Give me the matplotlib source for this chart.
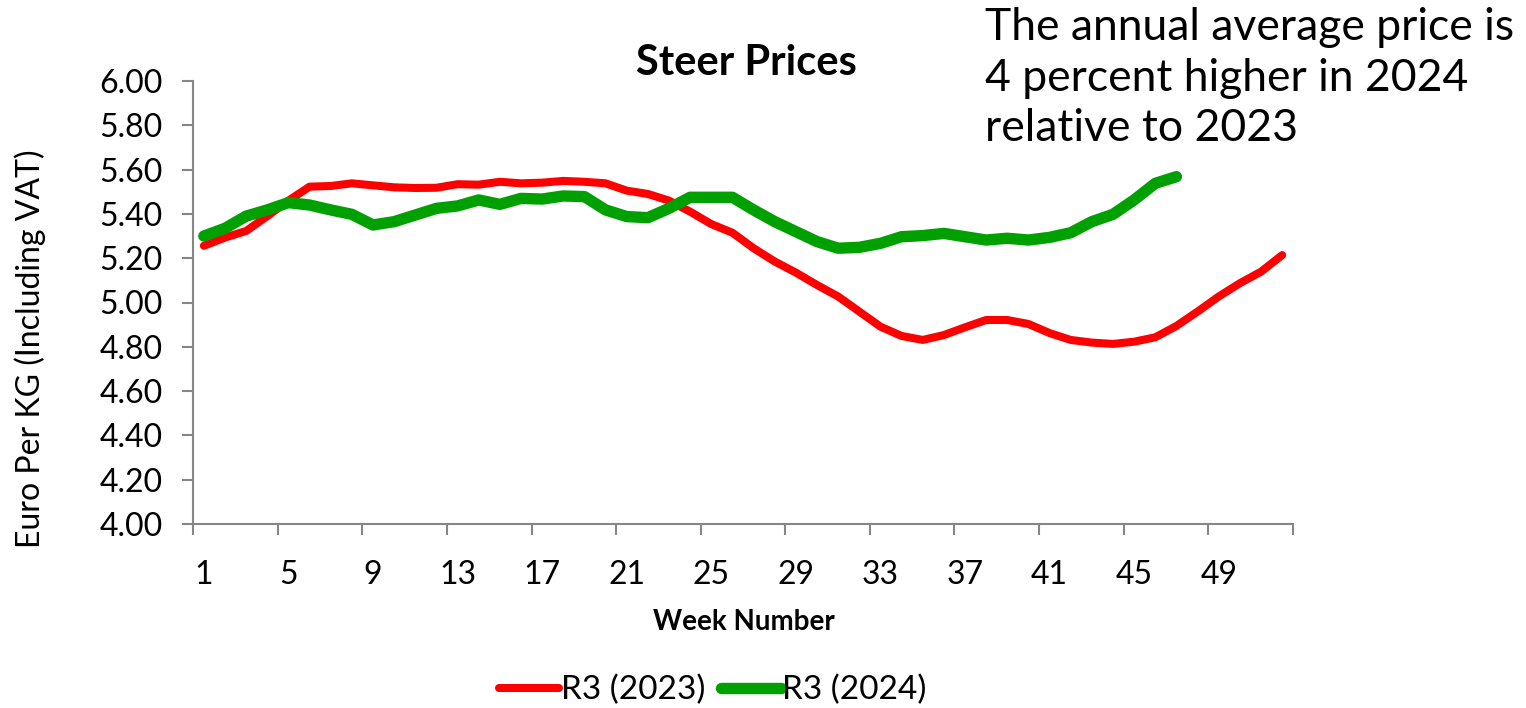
import matplotlib
matplotlib.use("Agg")
import matplotlib.pyplot as plt
import numpy as np

plt.rcParams['font.family'] = ['Lato', 'DejaVu Sans']

weeks = list(range(1, 53))
r3_2023 = [5.256, 5.293, 5.323, 5.390, 5.460, 5.523, 5.526, 5.538, 5.529, 5.520,
           5.517, 5.518, 5.534, 5.532, 5.545, 5.538, 5.541, 5.549, 5.545, 5.538,
           5.505, 5.490, 5.460, 5.410, 5.354, 5.315, 5.245, 5.185, 5.135, 5.079,
           5.027, 4.959, 4.891, 4.849, 4.831, 4.853, 4.888, 4.921, 4.921, 4.903,
           4.862, 4.831, 4.819, 4.813, 4.823, 4.843, 4.894, 4.959, 5.027, 5.087,
           5.139, 5.214]
r3_2024 = [5.300, 5.335, 5.390, 5.418, 5.451, 5.440, 5.418, 5.398, 5.350, 5.365,
           5.395, 5.425, 5.436, 5.463, 5.443, 5.470, 5.467, 5.481, 5.478, 5.418,
           5.388, 5.383, 5.425, 5.475, 5.475, 5.475, 5.418, 5.365, 5.320, 5.275,
           5.245, 5.249, 5.267, 5.297, 5.302, 5.312, 5.297, 5.282, 5.290, 5.282,
           5.294, 5.315, 5.365, 5.398, 5.463, 5.538, 5.568]
xtick_labels = [str(w) for w in range(1, 50, 4)]
yticks = [4.00, 4.20, 4.40, 4.60, 4.80, 5.00, 5.20, 5.40, 5.60, 5.80, 6.00]

fig = plt.figure(figsize=(15.26, 7.08), dpi=100)
ax = fig.add_axes([193.3 / 1526, 1 - 524 / 708, (1292.7 - 193.3) / 1526, (524 - 81) / 708])

ax.plot(weeks, r3_2023, color='#ff0000', lw=5.8, solid_capstyle='round',
        solid_joinstyle='round', label='R3 (2023)')
ax.plot(weeks[:len(r3_2024)], r3_2024, color='#00a000', lw=8.2, solid_capstyle='round',
        solid_joinstyle='round', label='R3 (2024)')

ax.set_xlim(0.5, 52.5)
ax.set_ylim(4.0, 6.0)
ax.set_yticks(yticks)
ax.set_yticklabels([f"{v:.2f}" for v in yticks])
ax.set_xticks(list(range(1, 50, 4)))
ax.set_xticklabels(xtick_labels)
ax.set_xticks(np.arange(0.5, 53, 4), minor=True)

for s in ['top', 'right']:
    ax.spines[s].set_visible(False)
for s in ['left', 'bottom']:
    ax.spines[s].set_color('#868686')
    ax.spines[s].set_linewidth(1.5)

ax.tick_params(axis='y', which='major', length=8, width=1.5, color='#868686',
               labelsize=23, pad=14, direction='out')
ax.tick_params(axis='x', which='major', length=0, labelsize=23, pad=26)
ax.tick_params(axis='x', which='minor', length=8, width=1.5, color='#868686', direction='out')

ax.set_ylabel('Euro Per KG (Including VAT)', fontsize=23)
ax.yaxis.set_label_coords(-0.1485, 0.395)
ax.set_xlabel('Week Number', fontsize=20, fontweight='bold')
ax.xaxis.set_label_coords(0.501, -0.221)
ax.xaxis.label.set_va('center')
ax.yaxis.label.set_va('center')

fig.text(746 / 1526, 1 - 63 / 708, 'Steer Prices', fontsize=30, fontweight='bold',
         ha='center', va='center')
fig.text(985 / 1526, 1 - 7 / 708,
         'The annual average price is\n4 percent higher in 2024\nrelative to 2023',
         fontsize=32, ha='left', va='top', linespacing=1.29)

leg = fig.legend(loc='center', bbox_to_anchor=(713 / 1526, 1 - 690 / 708), ncol=2,
                 frameon=False, fontsize=24, handlelength=1.8, handletextpad=0.05,
                 columnspacing=0.45)

fig.savefig('out.png', dpi=100)
